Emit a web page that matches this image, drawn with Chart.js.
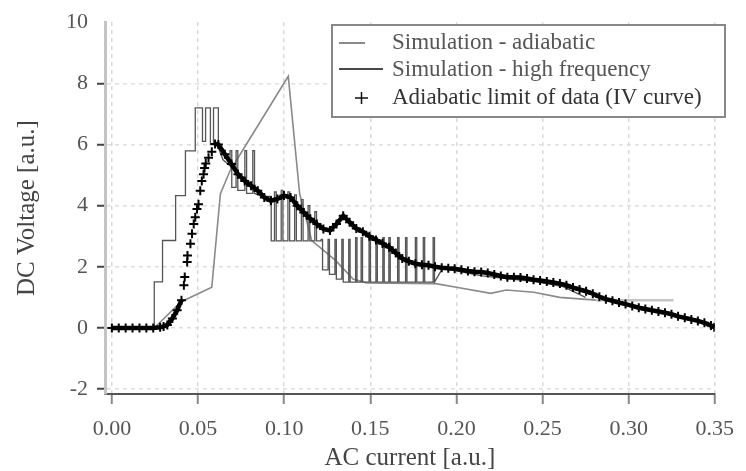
<!DOCTYPE html>
<html lang="en">
  <head>
    <meta charset="UTF-8" />
    <title>DC Voltage vs AC current</title>
    <script src="https://cdn.jsdelivr.net/npm/chart.js@4.4.1/dist/chart.umd.min.js"></script>
    <style>
      body { margin: 0; background: #fff; }
      #chart { display: block; }
    </style>
  </head>
  <body>
    <canvas id="chart" width="746" height="471"></canvas>
    <script>
      const seriesNames = [
        "Simulation - adiabatic",
        "Simulation - high frequency",
        "Adiabatic limit of data (IV curve)",
      ];
      const xTicks = [0, 0.05, 0.1, 0.15, 0.2, 0.25, 0.3, 0.35];
      const yTicks = [-2, 0, 2, 4, 6, 8, 10];

      /** simulation - adiabatic */
      const adiabX = [0, 0.0246, 0.04, 0.058, 0.063, 0.0686, 0.078, 0.1024, 0.109, 0.116, 0.13, 0.14, 0.148,
        0.188, 0.2, 0.22, 0.229, 0.245, 0.26, 0.281, 0.326];
      const adiabY = [0, 0, 0.85, 1.33, 4.39, 5.14, 6.0, 8.23, 4.39, 2.86, 2.2, 1.6, 1.47,
        1.45, 1.33, 1.13, 1.24, 1.17, 1.0, 0.91, 0.91];

      /** simulation - high frequency */
      const hfX = [
        // staircase
        0, 0.0246, 0.0246, 0.0294, 0.0294, 0.037, 0.037, 0.0427, 0.0427, 0.0484, 0.0484,
        // spikes at the top
        0.0526, 0.0526, 0.0544, 0.0544, 0.0572, 0.0572, 0.059, 0.059, 0.0618, 0.0618, 0.0645, 0.0686,
        0.0686, 0.0696, 0.0696, 0.0721, 0.0721, 0.0731, 0.0731, 0.0772, 0.0772, 0.0782, 0.0782,
        0.0818, 0.0818, 0.0828, 0.0828, 0.088, 0.0925,
        // bars around 0.10
        0.0925, 0.0944, 0.0944, 0.0954, 0.0954, 0.0983, 0.0983, 0.0993, 0.0993,
        0.1022, 0.1022, 0.1032, 0.1032, 0.1061, 0.1061, 0.1071, 0.1071,
        0.11, 0.11, 0.111, 0.111, 0.1139, 0.1139, 0.1149, 0.1149, 0.1178, 0.1178, 0.1188, 0.1188,
        // bars from 0.12 to 0.19
        0.1215, 0.1215, 0.1223, 0.1223, 0.1255, 0.1255, 0.1263, 0.1263,
        0.1295, 0.1295, 0.1303, 0.1303, 0.1335, 0.1335, 0.1343, 0.1343,
        0.1375, 0.1375, 0.1383, 0.1383, 0.1415, 0.1415, 0.1423, 0.1423,
        0.1447, 0.1447, 0.1455, 0.1455, 0.1493, 0.1493, 0.1501, 0.1501,
        0.1533, 0.1533, 0.1541, 0.1541, 0.1573, 0.1573, 0.1581, 0.1581,
        0.1608, 0.1608, 0.1616, 0.1616, 0.1659, 0.1659, 0.1667, 0.1667,
        0.1705, 0.1705, 0.1713, 0.1713, 0.1762, 0.1762, 0.177, 0.177,
        0.1808, 0.1808, 0.1816, 0.1816, 0.1865, 0.1865, 0.1873, 0.1873,
        // tail
        0.192, 0.215, 0.245, 0.262, 0.275];
      const hfY = [
        0, 0, 1.51, 1.51, 2.86, 2.86, 4.33, 4.33, 5.79, 5.79, 7.2,
        7.2, 6.1, 6.1, 7.2, 7.2, 6.0, 6.0, 7.2, 7.2, 5.9, 5.5, 5.3,
        5.8, 5.8, 4.6, 4.6, 5.8, 5.8, 4.5, 4.5, 5.8, 5.8, 4.4,
        4.4, 5.8, 5.8, 4.4, 4.3, 4.3,
        2.85, 2.85, 4.45, 4.45, 2.85, 2.85, 4.5, 4.5, 2.85,
        2.85, 4.45, 4.45, 2.85, 2.85, 4.35, 4.35, 2.85,
        2.85, 4.2, 4.2, 2.85, 2.85, 4.0, 4.0, 2.85, 2.85, 3.8, 3.8, 2.85,
        2.85, 2.9, 2.9, 1.9, 1.9, 2.9, 2.9, 1.75,
        1.75, 2.9, 2.9, 1.6, 1.6, 2.9, 2.9, 1.5,
        1.5, 2.9, 2.9, 1.5, 1.5, 2.95, 2.95, 1.5,
        1.5, 2.95, 2.95, 1.5, 1.5, 2.95, 2.95, 1.5,
        1.5, 2.95, 2.95, 1.5, 1.5, 2.95, 2.95, 1.5,
        1.5, 2.95, 2.95, 1.5, 1.5, 2.95, 2.95, 1.5,
        1.5, 2.95, 2.95, 1.5, 1.5, 2.95, 2.95, 1.5,
        1.5, 2.95, 2.95, 1.5, 1.5, 2.95, 2.95, 1.5,
        1.95, 1.7, 1.52, 1.35, 1.0];

      /** adiabatic limit of data (IV curve) */
      const dataX = [0, 0.004, 0.008, 0.012, 0.016, 0.02, 0.024, 0.028, 0.03,
        0.0322, 0.0351, 0.0379, 0.0404, 0.0418, 0.0423, 0.0437, 0.0439, 0.0456, 0.0465,
        0.0475, 0.0484, 0.0494, 0.0503, 0.0513, 0.0522, 0.0532, 0.0538, 0.0545, 0.0561,
        0.058, 0.0599, 0.0618, 0.0656, 0.0694, 0.0732, 0.0771, 0.0808, 0.0847, 0.0885,
        0.0923, 0.0961, 0.0999, 0.1037, 0.1076, 0.1114, 0.1152, 0.119, 0.1228, 0.1266,
        0.1304, 0.1343, 0.138, 0.1419, 0.1457, 0.1495, 0.1533, 0.1571, 0.161, 0.1648,
        0.1686, 0.1724, 0.1762, 0.18, 0.1838, 0.1876, 0.1915, 0.1953, 0.199, 0.2029,
        0.2067, 0.2105, 0.2144, 0.2182, 0.222, 0.2258, 0.2296, 0.2334, 0.2372, 0.241,
        0.2448, 0.2486, 0.2525, 0.2563, 0.2601, 0.2639, 0.2677, 0.2715, 0.2753, 0.2792,
        0.283, 0.2868, 0.2906, 0.2944, 0.2982, 0.3021, 0.3059, 0.3097, 0.3135, 0.3173,
        0.3211, 0.3249, 0.3287, 0.3326, 0.3364, 0.3402, 0.344, 0.3478, 0.3497];
      const dataY = [0, 0, 0, 0, 0, 0, 0, 0.02, 0.05,
        0.1, 0.31, 0.58, 0.91, 1.4, 1.67, 2.16, 2.37, 2.75, 3.08,
        3.4, 3.62, 3.89, 4.05, 4.49, 4.81, 5.03, 5.23, 5.38, 5.57,
        5.76, 6.02, 6.0, 5.68, 5.36, 5.03, 4.81, 4.65, 4.49, 4.27,
        4.16, 4.22, 4.33, 4.27, 4.0, 3.78, 3.57, 3.4, 3.24, 3.19,
        3.4, 3.67, 3.46, 3.25, 3.15, 3.0, 2.88, 2.76, 2.64, 2.45,
        2.27, 2.18, 2.1, 2.07, 2.05, 2.0, 1.97, 1.95, 1.94, 1.9,
        1.86, 1.84, 1.83, 1.8, 1.75, 1.7, 1.66, 1.66, 1.65, 1.62,
        1.58, 1.55, 1.52, 1.49, 1.45, 1.4, 1.32, 1.26, 1.2, 1.12,
        1.02, 0.94, 0.89, 0.83, 0.78, 0.72, 0.66, 0.62, 0.58, 0.54,
        0.5, 0.45, 0.38, 0.33, 0.28, 0.23, 0.17, 0.08, 0.02];

      const FONT = "'Liberation Serif', 'Times New Roman', serif";
      Chart.defaults.font.family = FONT;

      function pts(xs, ys) {
        return xs.map((x, i) => ({ x: x, y: ys[i] }));
      }

      // legend drawn inside the plot, top right
      const legendBox = {
        id: "legendBox",
        afterDraw(chart) {
          const ctx = chart.ctx;
          ctx.save();
          ctx.fillStyle = "#fff";
          ctx.fillRect(332, 25, 393, 92);
          ctx.strokeStyle = "#888";
          ctx.lineWidth = 2;
          ctx.strokeRect(332, 25, 393, 92);

          ctx.lineWidth = 2;
          ctx.strokeStyle = "#8a8a8a";
          ctx.beginPath();
          ctx.moveTo(339, 43);
          ctx.lineTo(365, 43);
          ctx.stroke();

          ctx.strokeStyle = "#4a4a4a";
          ctx.beginPath();
          ctx.moveTo(339, 69);
          ctx.lineTo(383, 69);
          ctx.stroke();

          ctx.strokeStyle = "#111";
          ctx.lineWidth = 1.5;
          ctx.beginPath();
          ctx.moveTo(355, 98);
          ctx.lineTo(368, 98);
          ctx.moveTo(361.5, 92);
          ctx.lineTo(361.5, 104);
          ctx.stroke();

          ctx.font = "23px " + FONT;
          ctx.textBaseline = "middle";
          ctx.fillStyle = "#555";
          ctx.fillText(seriesNames[0], 392, 43);
          ctx.fillText(seriesNames[1], 392, 70);
          ctx.fillStyle = "#333";
          ctx.fillText(seriesNames[2], 392, 98);
          ctx.restore();
        },
      };

      new Chart("chart", {
        type: "line",
        data: {
          datasets: [
            {
              label: seriesNames[2],
              data: pts(dataX, dataY),
              borderColor: "#000",
              backgroundColor: "#000",
              borderWidth: 4.5,
              pointStyle: "cross",
              pointRadius: 4.5,
              pointBorderWidth: 2,
              pointBorderColor: "#000",
              order: 0,
              segment: {
                borderColor: (c) =>
                  dataX[c.p0DataIndex] > 0.038 && dataX[c.p1DataIndex] < 0.061
                    ? "rgba(0,0,0,0)"
                    : undefined,
              },
            },
            {
              label: seriesNames[1],
              data: pts(hfX, hfY),
              borderColor: "#555",
              borderWidth: 1.3,
              pointRadius: 0,
              order: 1,
            },
            {
              label: seriesNames[0],
              data: pts(adiabX, adiabY),
              borderColor: "#8a8a8a",
              borderWidth: 1.6,
              pointRadius: 0,
              order: 2,
              segment: {
                borderColor: (c) => (adiabX[c.p0DataIndex] >= 0.281 ? "#c4c4c4" : undefined),
                borderWidth: (c) => (adiabX[c.p0DataIndex] >= 0.281 ? 2.5 : undefined),
              },
            },
          ],
        },
        options: {
          responsive: false,
          animation: false,
          events: [],
          layout: { padding: { top: 19, right: 22, left: 0, bottom: 0 } },
          plugins: { legend: { display: false }, tooltip: { enabled: false } },
          scales: {
            x: {
              type: "linear",
              min: -0.004,
              max: 0.35,
              afterBuildTicks: (s) => {
                s.ticks = xTicks.map((v) => ({ value: v }));
              },
              afterFit: (s) => {
                s.height = 77;
              },
              ticks: {
                callback: (v) => v.toFixed(2),
                font: { size: 22 },
                color: "#555",
                padding: 12,
                maxRotation: 0,
                autoSkip: false,
              },
              grid: { color: "#d9d9d9", lineWidth: 1.5, tickLength: 10, tickColor: "#888", tickWidth: 2 },
              border: { color: "#555", width: 2, dash: [4, 4] },
              title: {
                display: true,
                text: "AC current [a.u.]",
                color: "#444",
                font: { size: 25, lineHeight: 1 },
                padding: { top: 0, bottom: 0 },
              },
            },
            y: {
              min: -2.16,
              max: 10,
              afterBuildTicks: (s) => {
                s.ticks = yTicks.map((v) => ({ value: v }));
              },
              afterFit: (s) => {
                s.width = 105;
              },
              ticks: { font: { size: 22 }, color: "#555", padding: 9 },
              grid: {
                color: (c) => (c.tick && c.tick.value === 10 ? "rgba(0,0,0,0)" : "#dedede"),
                lineWidth: 1.5,
                tickLength: 8,
                tickColor: (c) => (c.tick && c.tick.value === 10 ? "rgba(0,0,0,0)" : "#444"),
                tickWidth: 2,
              },
              border: { color: "#c4c4c4", width: 3, dash: [4, 4] },
              title: {
                display: true,
                text: "DC Voltage [a.u.]",
                color: "#444",
                font: { size: 25, lineHeight: 1 },
                padding: { top: 15, bottom: 0 },
              },
            },
          },
        },
        plugins: [legendBox],
      });
    </script>
  </body>
</html>
